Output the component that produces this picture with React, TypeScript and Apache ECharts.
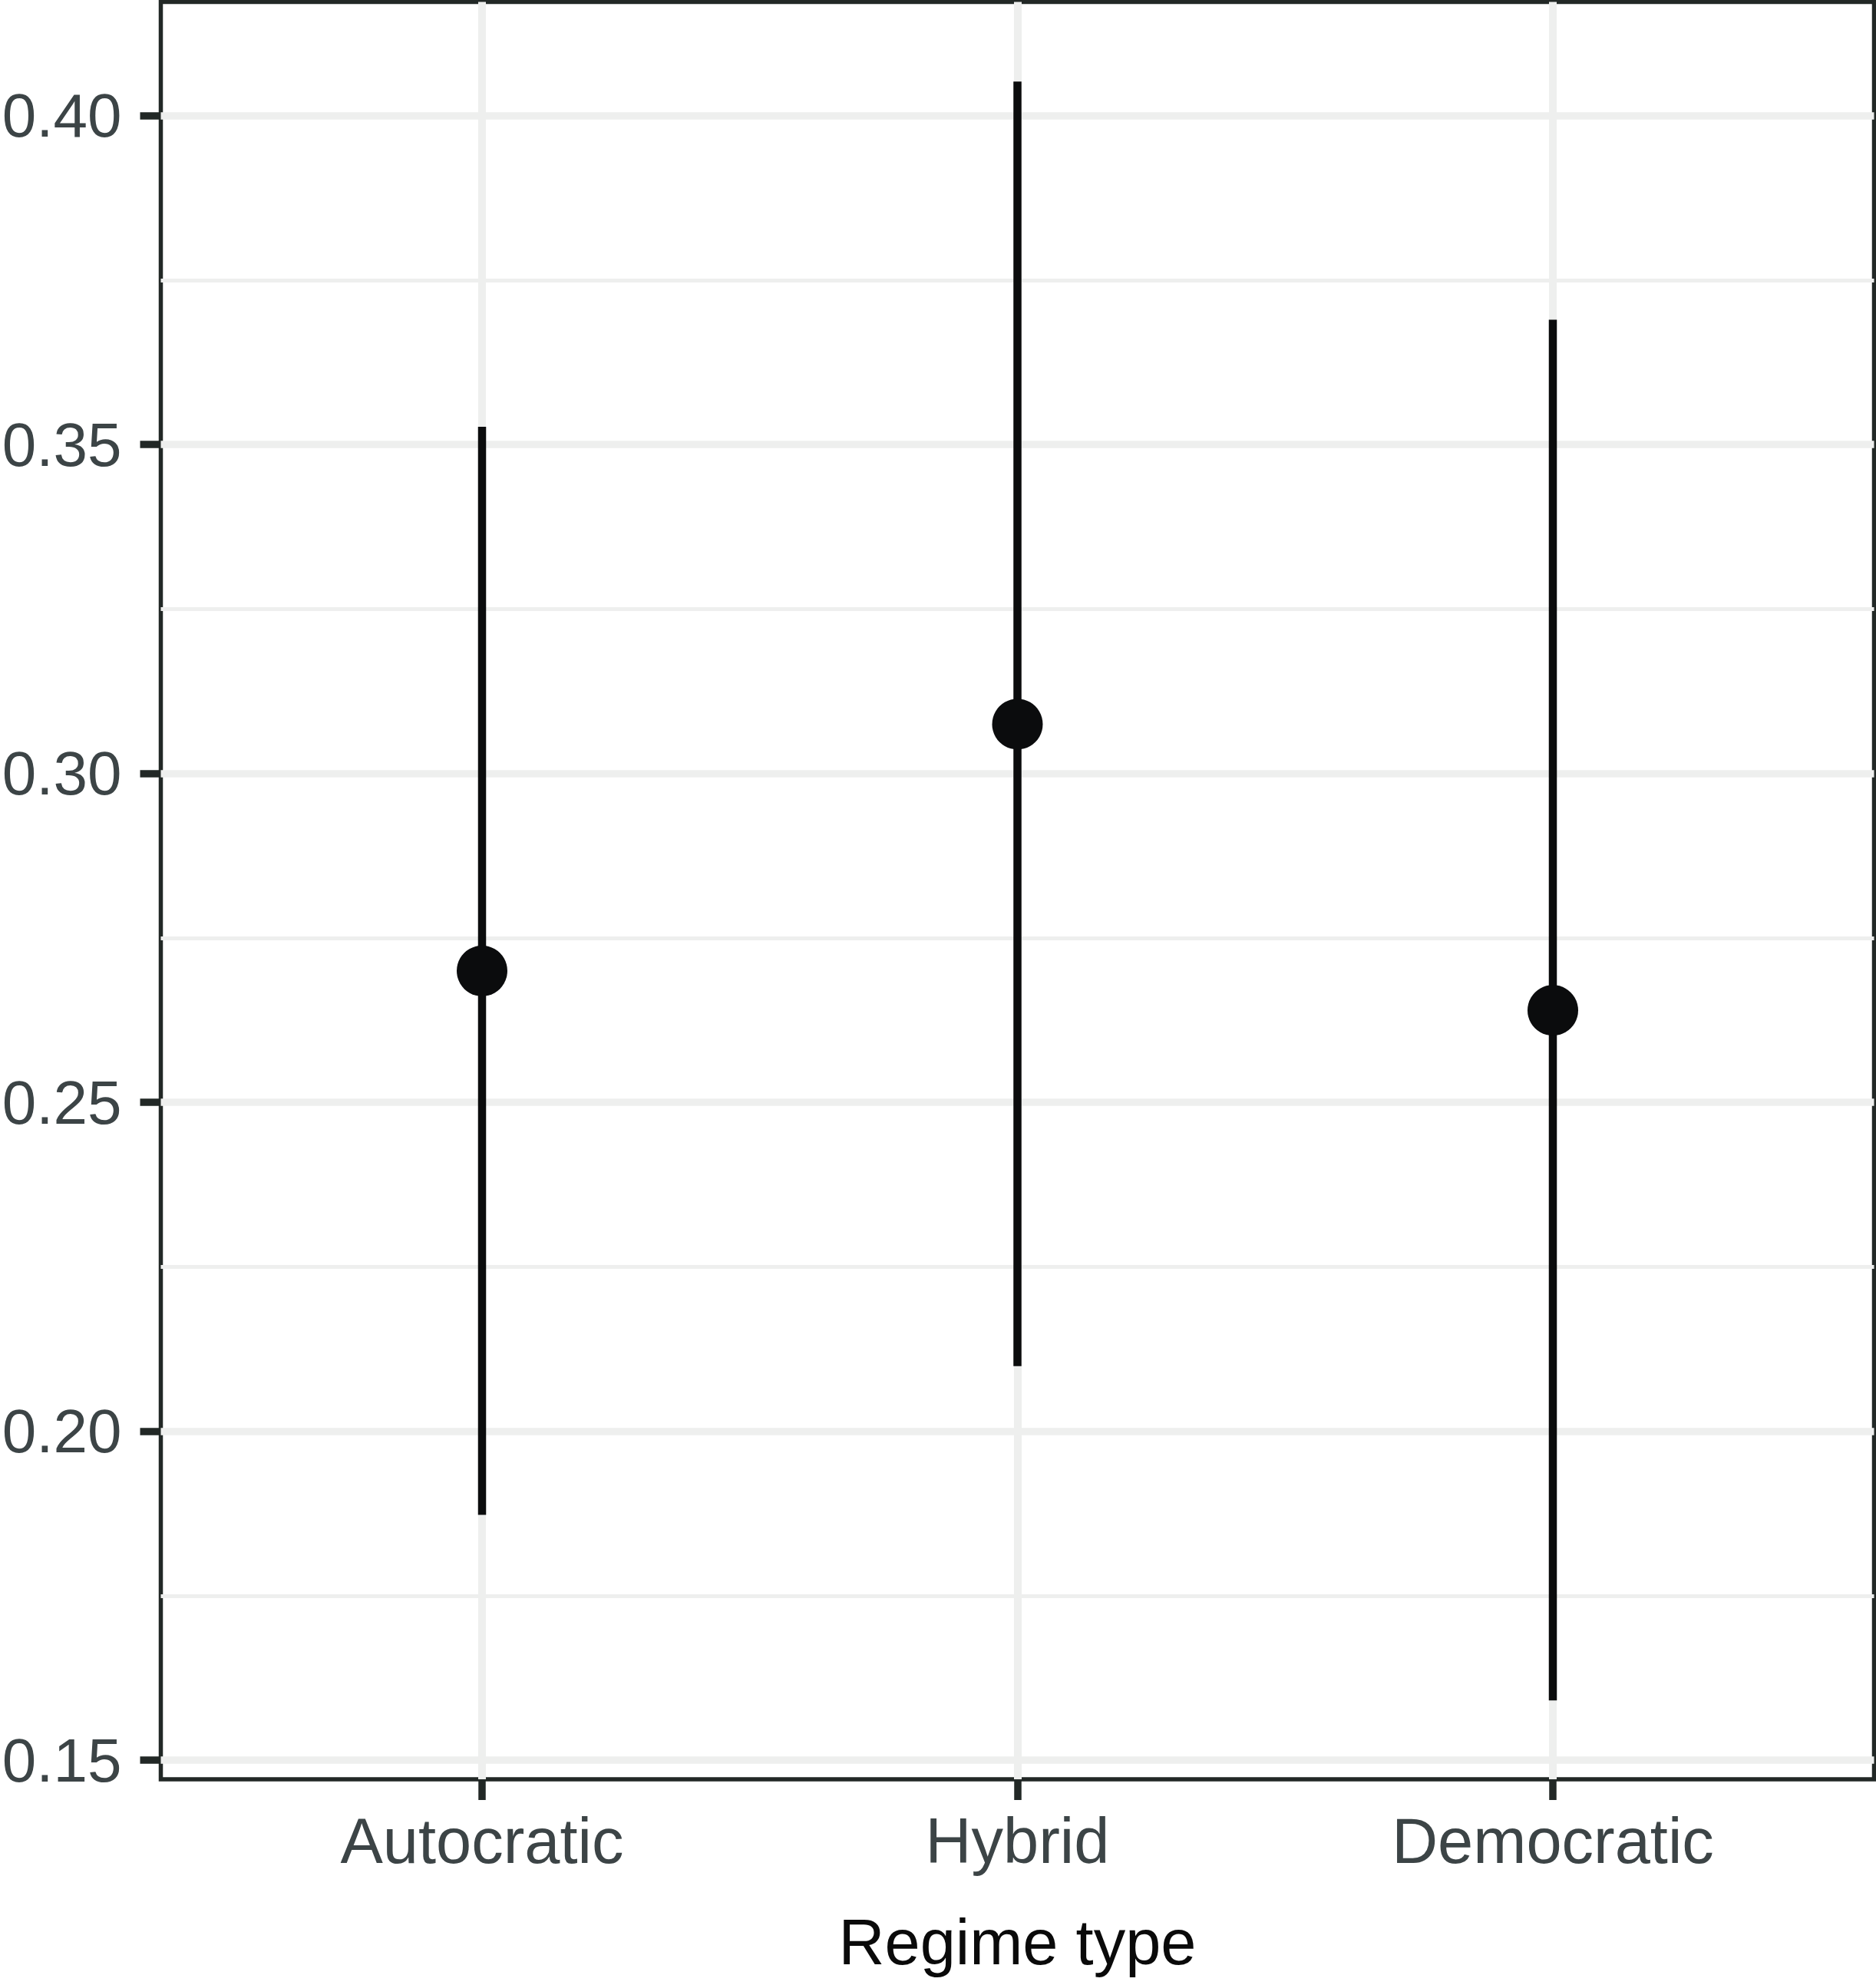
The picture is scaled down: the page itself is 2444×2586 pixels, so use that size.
import React, { useEffect, useRef } from "react";
import * as echarts from "echarts";

const categories = ["Autocratic", "Hybrid", "Democratic"];
const estimates = [0.27, 0.3075, 0.264];
const lowerBounds = [0.1873, 0.2099, 0.1591];
const upperBounds = [0.3527, 0.4052, 0.369];
const yMajorTicks = [0.15, 0.2, 0.25, 0.3, 0.35, 0.4];
const yMinorTicks = [0.175, 0.225, 0.275, 0.325, 0.375];
const xPositions = [1, 2, 3];

const FONT = "'Liberation Sans', Arial, Helvetica, sans-serif";
const INK = "#0B0C0D";
const BORDER = "#222826";
const GRID = "#EEEFEE";
const LABEL = "#3C4446";

export default function App() {
  const ref = useRef<HTMLDivElement>(null);
  useEffect(() => {
    document.body.style.margin = "0";
    if (!ref.current) return;
    const chart = echarts.init(ref.current, undefined, { renderer: "svg" });
    const barData = xPositions.map((x, i) => [x, lowerBounds[i], upperBounds[i]]);
    const pointData = xPositions.map((x, i) => [x, estimates[i]]);
    const gridLines = [
      ...yMajorTicks.map((v) => ({ yAxis: v, lineStyle: { width: 9.5, color: GRID, type: "solid" } })),
      ...yMinorTicks.map((v) => ({ yAxis: v, lineStyle: { width: 5, color: GRID, type: "solid" } })),
      ...xPositions.map((v) => ({ xAxis: v, lineStyle: { width: 10, color: GRID, type: "solid" } })),
    ];
    chart.setOption({
      animation: false,
      backgroundColor: "#ffffff",
      grid: {
        left: 209.5,
        right: 2.5,
        top: 2.5,
        bottom: 268,
        show: true,
        borderColor: BORDER,
        borderWidth: 5.5,
        backgroundColor: "transparent",
        containLabel: false,
        outerBoundsMode: "none",
      },
      xAxis: {
        type: "value",
        min: 0.4,
        max: 3.6,
        axisLine: { show: false, onZero: false },
        splitLine: { show: false },
        axisTick: {
          show: true,
          length: 27,
          customValues: xPositions,
          lineStyle: { color: BORDER, width: 9.5 },
        },
        axisLabel: {
          customValues: xPositions,
          formatter: (v: number) => categories[Math.round(v) - 1] ?? "",
          fontSize: 83,
          fontFamily: FONT,
          color: LABEL,
          margin: 39,
        },
        name: "Regime type",
        nameLocation: "middle",
        nameGap: 171,
        nameTextStyle: { fontSize: 83, fontFamily: FONT, color: "#0A0A0A" },
      },
      yAxis: {
        type: "value",
        min: 0.1471,
        max: 0.4173,
        axisLine: { show: false, onZero: false },
        splitLine: { show: false },
        axisTick: {
          show: true,
          length: 27,
          customValues: yMajorTicks,
          lineStyle: { color: BORDER, width: 9.5 },
        },
        axisLabel: {
          customValues: yMajorTicks,
          formatter: (v: number) => v.toFixed(2),
          fontSize: 80,
          fontFamily: FONT,
          color: LABEL,
          margin: 51,
        },
      },
      series: [
        {
          type: "line",
          data: [],
          silent: true,
          markLine: {
            silent: true,
            z: 1,
            precision: 4,
            symbol: ["none", "none"],
            label: { show: false },
            emphasis: { disabled: true },
            data: gridLines,
          },
        },
        {
          type: "custom",
          z: 3,
          silent: true,
          data: barData,
          encode: { x: 0, y: [1, 2] },
          renderItem: (params: any, api: any) => {
            const p1 = api.coord([api.value(0), api.value(1)]);
            const p2 = api.coord([api.value(0), api.value(2)]);
            return {
              type: "line",
              shape: { x1: p1[0], y1: p1[1], x2: p2[0], y2: p2[1] },
              style: { stroke: INK, lineWidth: 10.5, lineCap: "butt" },
            };
          },
        },
        {
          type: "scatter",
          z: 4,
          silent: true,
          data: pointData,
          symbol: "circle",
          symbolSize: 66,
          itemStyle: { color: INK, opacity: 1 },
          emphasis: { disabled: true },
        },
      ],
    });
    return () => chart.dispose();
  }, []);
  return <div ref={ref} style={{ width: 2444, height: 2586 }} />;
}
